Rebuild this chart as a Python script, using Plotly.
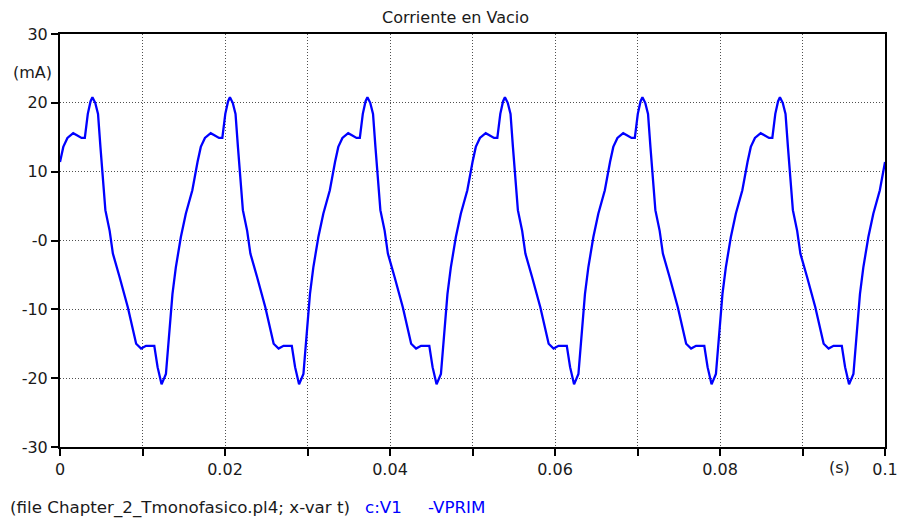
import plotly.graph_objects as go

# One 60 Hz cycle of the no-load primary current (time in ms, current in mA)
cycle_t_ms = [0.00, 0.40, 0.90, 1.41, 1.60, 2.05, 2.61, 3.01, 3.37, 3.70, 3.93,
              4.27, 4.61, 4.90, 5.21, 5.50, 6.02, 6.41, 7.22, 8.22, 9.23, 9.83,
              10.43, 11.43, 11.83, 12.31, 12.84, 13.24, 13.63, 14.04, 14.65,
              15.25, 16.04, 16.67]
cycle_ma = [11.4, 13.6, 14.9, 15.5, 15.6, 15.3, 14.9, 14.9, 18.4, 20.2, 20.8,
            20.0, 18.4, 13.6, 8.7, 4.4, 1.4, -1.9, -5.3, -9.7, -15.0, -15.7,
            -15.3, -15.3, -18.4, -20.9, -19.4, -13.6, -7.8, -3.9, 0.5,
            3.9, 7.3, 11.4]
period_ms = 1000.0 / 60.0
n_cycles = 6

x_tick_vals = [0, 0.01, 0.02, 0.03, 0.04, 0.05, 0.06, 0.07, 0.08, 0.09, 0.1]
x_tick_text = ["0", "", "0.02", "", "0.04", "", "0.06", "", "0.08", "", "0.1"]
y_tick_vals = [-30, -20, -10, 0, 10, 20, 30]
y_tick_text = ["-30", "-20", "-10", "-0", "10", "20", "30"]

t_s, i_ma = [], []
for k in range(n_cycles):
    start = 0 if k == 0 else 1
    for tm, v in zip(cycle_t_ms[start:], cycle_ma[start:]):
        t_s.append((tm + k * period_ms) / 1000.0)
        i_ma.append(v)

FONT = "DejaVu Sans"
FS = 16
FOOT_FS = 16.7
TXT = "#1a1a1a"
BLUE = "#0000ff"

fig = go.Figure()
fig.add_trace(go.Scatter(x=t_s, y=i_ma, mode="lines",
                         line=dict(color=BLUE, width=2.3), hoverinfo="skip"))

fig.update_layout(
    width=910, height=522,
    margin=dict(l=60, r=19, t=34, b=75),
    paper_bgcolor="white", plot_bgcolor="white",
    showlegend=False,
    font=dict(family=FONT, size=FS, color=TXT),
)

axis_style = dict(
    showline=True, linecolor="black", linewidth=2, mirror=True,
    ticks="outside", ticklen=7, tickwidth=2, tickcolor="black",
    showgrid=True, gridcolor="#505050", gridwidth=1, griddash="1px,2px",
    zeroline=False, tickfont=dict(family=FONT, size=FS, color=TXT),
)
fig.update_xaxes(range=[0, 0.1], tickvals=x_tick_vals, ticktext=x_tick_text,
                 **axis_style)
fig.update_yaxes(range=[-30, 30], tickvals=y_tick_vals, ticktext=y_tick_text,
                 **axis_style)

# Title
fig.add_annotation(text="Corriente en Vacio", xref="paper", yref="paper",
                   x=(458 - 60) / 831, y=1 + (34 - 17) / 413,
                   xanchor="center", yanchor="middle", showarrow=False,
                   font=dict(family=FONT, size=FS, color=TXT))

# Unit labels
fig.add_annotation(text="(mA)", xref="paper", yref="y", x=0, y=24.4,
                   xanchor="right", yanchor="middle", xshift=-6, showarrow=False,
                   font=dict(family=FONT, size=FS, color=TXT))
fig.add_annotation(text="(s)", xref="x", yref="paper", x=0.0945, y=0,
                   xanchor="center", yanchor="top", yshift=-9, showarrow=False,
                   font=dict(family=FONT, size=FS, color=TXT))

# Footer with file and variable names
footer_y = -(507 - 447) / 413
fig.add_annotation(text="(file Chapter_2_Tmonofasico.pl4; x-var t)",
                   xref="paper", yref="paper", x=(8 - 60) / 831, y=footer_y,
                   xanchor="left", yanchor="middle", showarrow=False,
                   font=dict(family=FONT, size=FOOT_FS, color=TXT))
fig.add_annotation(text="c:V1", xref="paper", yref="paper",
                   x=(365 - 60) / 831, y=footer_y,
                   xanchor="left", yanchor="middle", showarrow=False,
                   font=dict(family=FONT, size=FOOT_FS, color=BLUE))
fig.add_annotation(text="-VPRIM", xref="paper", yref="paper",
                   x=(429 - 60) / 831, y=footer_y,
                   xanchor="left", yanchor="middle", showarrow=False,
                   font=dict(family=FONT, size=FOOT_FS, color=BLUE))

fig.write_html("out.html")
